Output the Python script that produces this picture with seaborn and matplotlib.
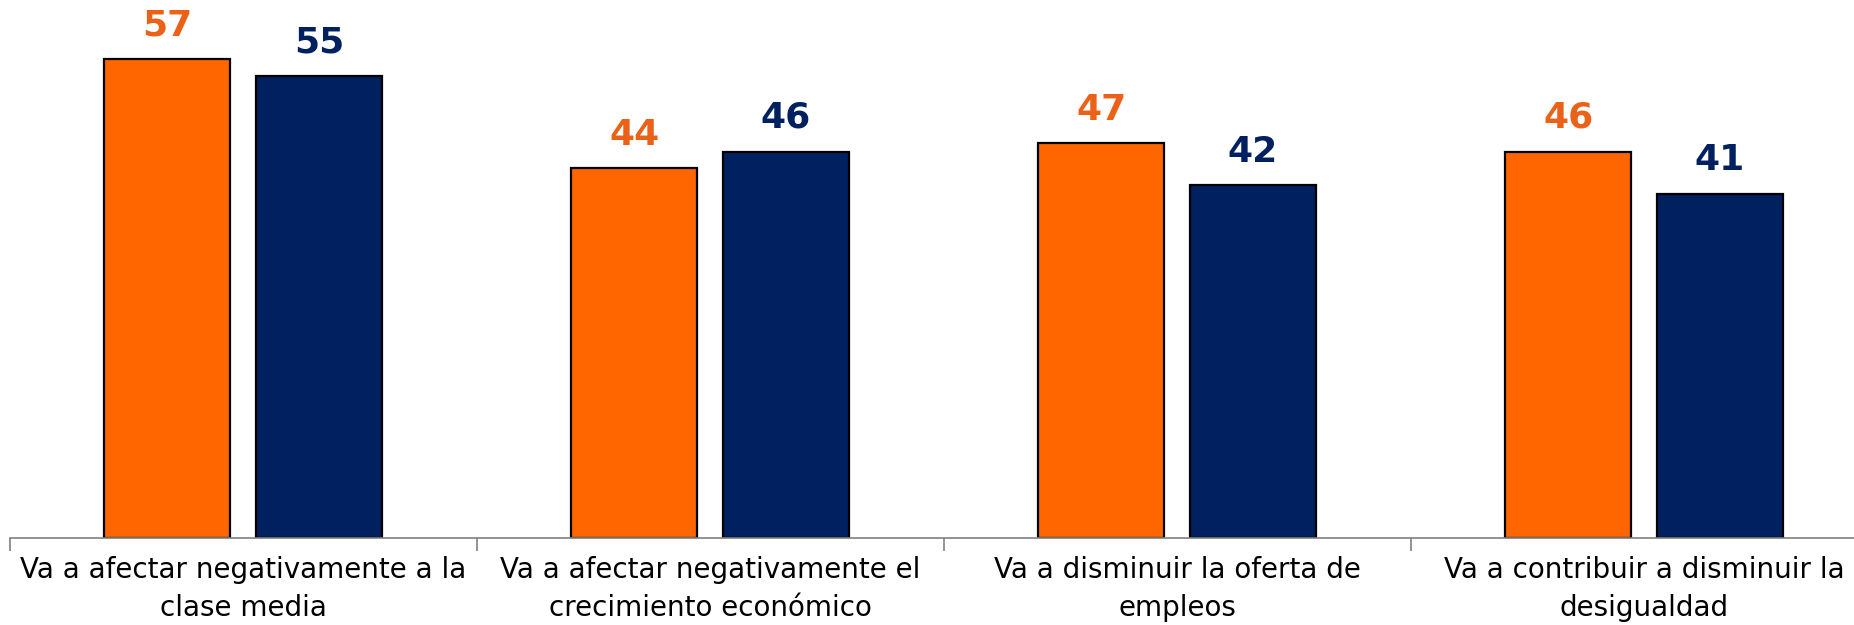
import matplotlib
matplotlib.use("Agg")
import matplotlib.pyplot as plt
import seaborn as sns
import pandas as pd
import numpy as np

categories = [
    "Va a afectar negativamente a la\nclase media",
    "Va a afectar negativamente el\ncrecimiento económico",
    "Va a disminuir la oferta de\nempleos",
    "Va a contribuir a disminuir la\ndesigualdad",
]
series_names = ["Serie 1", "Serie 2"]
values_s1 = [57, 44, 47, 46]
values_s2 = [55, 46, 42, 41]

bar_colors = ["#FF6600", "#002060"]
label_colors = ["#EB6118", "#002060"]

df = pd.DataFrame({
    "categoria": categories * 2,
    "serie": [series_names[0]] * 4 + [series_names[1]] * 4,
    "valor": values_s1 + values_s2,
})

sns.set_theme(style="white")
plt.rcParams["font.family"] = ["DejaVu Sans"]

W, H = 1854, 625
fig = plt.figure(figsize=(W / 100, H / 100), dpi=100)
left_px, base_px = 9.5, 538
group_px = 467
ax = fig.add_axes([left_px / W, (H - base_px) / H, 4 * group_px / W, base_px / H])

sns.barplot(data=df, x="categoria", y="valor", hue="serie", order=categories,
            hue_order=series_names, palette=bar_colors, width=0.65, gap=0.17,
            edgecolor="black", linewidth=1.6, saturation=1, legend=False, ax=ax)

for cont, col in zip(ax.containers, label_colors):
    ax.bar_label(cont, labels=[f"{v:.0f}" for v in cont.datavalues], padding=12,
                 fontsize=26, fontweight="bold", color=col)

ax.set_xlim(-0.5, 3.5)
ax.set_ylim(0, base_px / 8.4)
ax.set_xlabel("")
ax.set_ylabel("")
ax.set_yticks([])
for s in ["top", "right", "left"]:
    ax.spines[s].set_visible(False)
ax.spines["bottom"].set_color("#808080")
ax.spines["bottom"].set_linewidth(1.2)

ax.set_xticks(range(len(categories)))
ax.set_xticklabels(categories, fontsize=20, color="black", linespacing=1.45)
ax.tick_params(axis="x", which="major", length=0, pad=13)
ax.set_xticks(np.arange(-0.5, len(categories) + 0.5, 1), minor=True)
ax.tick_params(axis="x", which="minor", length=9, width=1.2, color="#808080", direction="out", bottom=True)

fig.savefig("out.png", dpi=100)
